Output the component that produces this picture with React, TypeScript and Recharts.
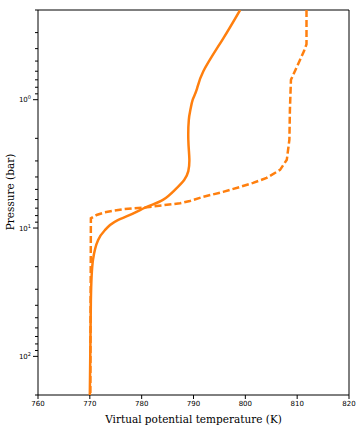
import React from 'react';
import { LineChart, Line, XAxis, YAxis, ReferenceArea } from 'recharts';

// temperature (K) / pressure (bar) pairs, read top of the atmosphere down
const solidTemp = [799.0, 795.6, 791.9, 790.6, 789.85, 789.4, 789.1, 789.0, 789.2, 789.0, 788.2, 786.4, 784.1, 781.0, 777.75, 775.4, 773.9, 772.9, 771.6, 770.6, 770.2, 770.0];
const solidPres = [0.2, 0.34, 0.6, 0.84, 1.0, 1.2, 1.43, 2.05, 2.9, 3.6, 4.22, 5.05, 6.04, 6.85, 7.91, 8.66, 9.48, 10.4, 12.4, 17.8, 36.5, 200];

const dashedTemp = [811.8, 811.8, 811.3, 808.8, 808.6, 808.5, 808.0, 806.7, 804.1, 801.5, 799.0, 795.7, 791.8, 789.3, 787.4, 784.1, 781.0, 778.3, 776.4, 774.5, 772.9, 771.3, 770.2, 770.1];
const dashedPres = [0.2, 0.37, 0.42, 0.7, 1.2, 2.05, 2.94, 3.52, 4.07, 4.45, 4.78, 5.23, 5.72, 6.15, 6.41, 6.65, 6.89, 7.02, 7.14, 7.33, 7.54, 7.91, 8.4, 200];

const xTicks = [760, 770, 780, 790, 800, 810, 820];
const yTicks = [
  0.2, 0.3, 0.4, 0.5, 0.6, 0.7, 0.8, 0.9,
  1, 2, 3, 4, 5, 6, 7, 8, 9,
  10, 20, 30, 40, 50, 60, 70, 80, 90,
  100, 200,
];
const majorLabels: Record<number, string> = { 1: '0', 10: '1', 100: '2' };

const solidData = solidTemp.map((t, i) => ({ t, p: solidPres[i] }));
const dashedData = dashedTemp.map((t, i) => ({ t, p: dashedPres[i] }));

const ORANGE = '#ff7f0e';
const PLOT_LEFT = 38;

const LogTick = (props: any) => {
  const { y, payload } = props;
  const v = payload.value;
  const exp = majorLabels[v];
  const major = exp !== undefined;
  return (
    <g>
      <line x1={PLOT_LEFT - (major ? 5 : 3)} x2={PLOT_LEFT} y1={y} y2={y} stroke="#000" strokeWidth={1} />
      {major && (
        <text x={PLOT_LEFT - 7} y={y + 2.5} textAnchor="end" fontSize={7} fontFamily="DejaVu Sans" fill="#000">
          10<tspan dy={-3} fontSize={5}>{exp}</tspan>
        </text>
      )}
    </g>
  );
};

export default function App() {
  return (
    <div style={{ position: 'absolute', left: 0, top: 0, background: '#fff' }}>
      <LineChart width={361} height={429} margin={{ top: 10, right: 12, bottom: 0, left: 0 }}>
        <XAxis
          type="number"
          dataKey="t"
          domain={[760, 820]}
          ticks={xTicks}
          interval={0}
          allowDataOverflow
          axisLine={false}
          tickSize={4}
          tickLine={{ stroke: '#000' }}
          tick={{ fontSize: 7, fontFamily: 'DejaVu Sans', fill: '#000' }}
          height={34}
          label={{
            value: 'Virtual potential temperature (K)',
            position: 'insideBottom',
            offset: 6,
            style: { fontSize: 10.5, fontFamily: 'DejaVu Serif', fill: '#000' },
          }}
        />
        <YAxis
          type="number"
          dataKey="p"
          scale="log"
          domain={[0.2, 200]}
          reversed
          allowDataOverflow
          ticks={yTicks}
          interval={0}
          axisLine={false}
          tickLine={false}
          tick={<LogTick />}
          width={PLOT_LEFT}
          label={{
            content: () => (
              <text
                x={11}
                y={192}
                transform="rotate(-90 11 192)"
                textAnchor="middle"
                dominantBaseline="middle"
                fontSize={10.5}
                fontFamily="DejaVu Serif"
                fill="#000"
              >
                Pressure (bar)
              </text>
            ),
          }}
        />
        <ReferenceArea x1={760} x2={820} y1={0.2} y2={200} fill="none" stroke="#000" strokeWidth={1} ifOverflow="visible" />
        <Line
          data={solidData}
          dataKey="p"
          type="natural"
          stroke={ORANGE}
          strokeWidth={2.5}
          dot={false}
          isAnimationActive={false}
        />
        <Line
          data={dashedData}
          dataKey="p"
          type="linear"
          stroke={ORANGE}
          strokeWidth={2.5}
          strokeDasharray="7 3"
          dot={false}
          isAnimationActive={false}
        />
      </LineChart>
    </div>
  );
}
